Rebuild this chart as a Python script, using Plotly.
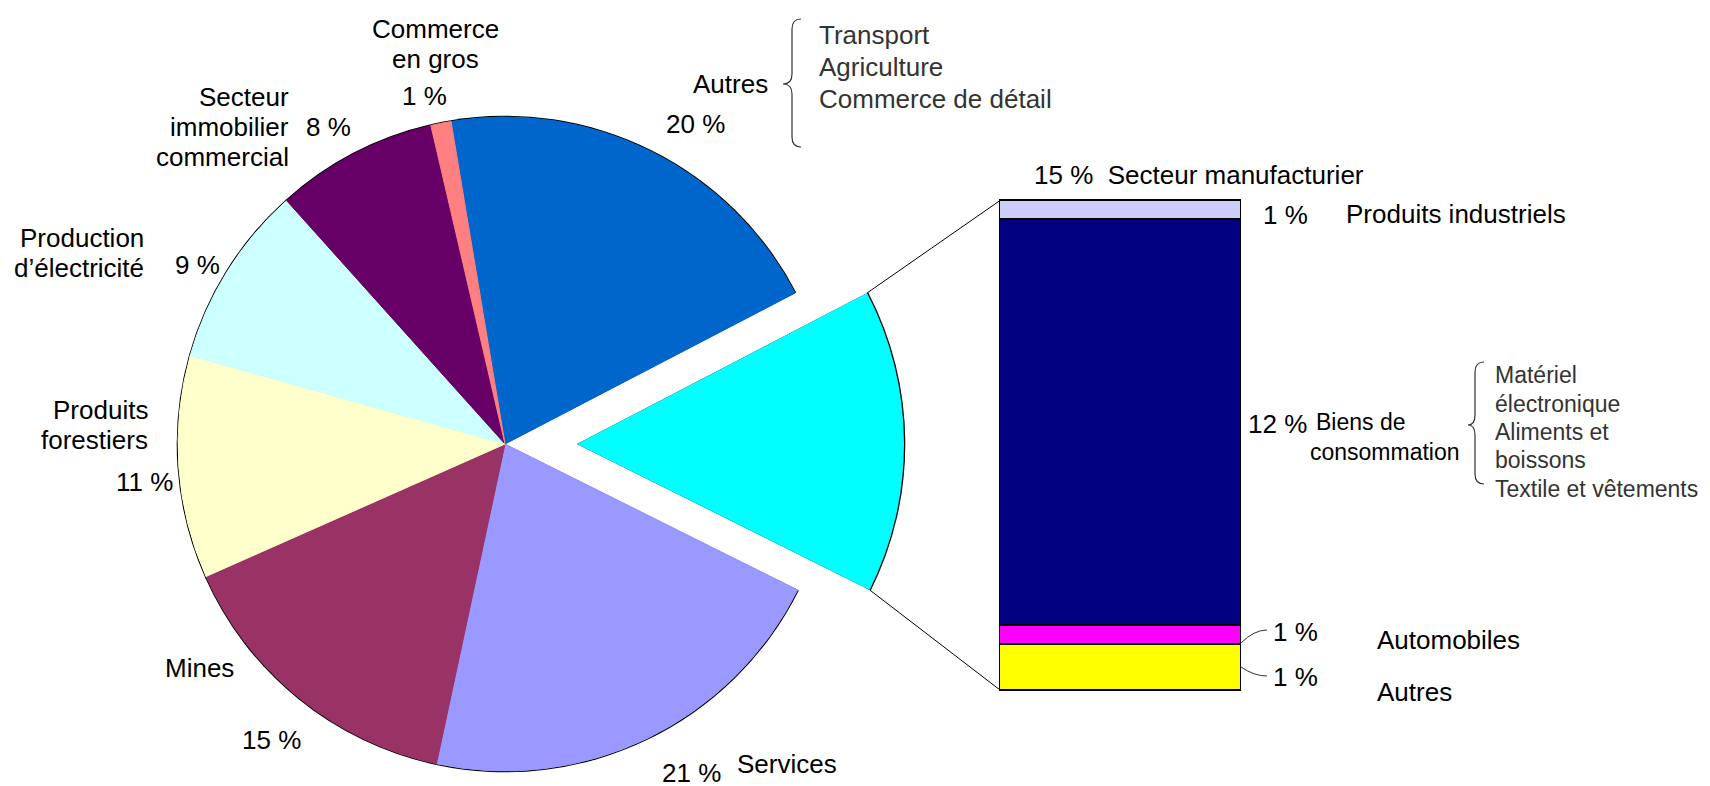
import math

import plotly.graph_objects as go

W, H = 1710, 786

# Répartition par secteur (camembert), dans le sens horaire depuis le haut
secteurs = [
    "Autres",
    "Secteur manufacturier",
    "Services",
    "Mines",
    "Produits forestiers",
    "Production d’électricité",
    "Secteur immobilier commercial",
    "Commerce en gros",
]
parts = [20, 15, 21, 15, 11, 9, 8, 1]
couleurs = ["#0066CC", "#00FFFF", "#9999FF", "#993366", "#FFFFCC", "#CCFFFF", "#660066", "#FF8080"]

# Détail du secteur manufacturier (barre empilée, du bas vers le haut)
manuf = ["Autres", "Automobiles", "Biens de consommation", "Produits industriels"]
manuf_parts = [1.38, 0.61, 12.44, 0.57]
manuf_etiq = ["1 %", "1 %", "12 %", "1 %"]
manuf_couleurs = ["#FFFF00", "#FF00FF", "#000080", "#CCCCFF"]

FONT = "Liberation Sans, Arial, sans-serif"

# géométrie (pixels)
OX, OY = -7, -6
CX, CY, R = 504, 442, 327
PULL = 72
ROT = -9.5
BAR_X0, BAR_X1, BAR_Y0, BAR_Y1 = 999, 1240, 198.5, 688
PAD = 4


def px(x):
    return (x + OX) / W


def py(y):
    return 1 - (y + OY) / H


def dom(cx, cy, r):
    return dict(x=[px(cx - r), px(cx + r)], y=[py(cy + r), py(cy - r)])


i_man = secteurs.index("Secteur manufacturier")
clear = "rgba(0,0,0,0)"

fig = go.Figure()


def pie(colors, domain, seam=False):
    fig.add_trace(
        go.Pie(
            labels=secteurs,
            values=parts,
            sort=False,
            direction="clockwise",
            rotation=ROT,
            marker=dict(colors=colors, line=dict(width=1 if seam else 0, color=colors)),
            textinfo="none",
            hoverinfo="skip",
            showlegend=False,
            domain=domain,
        )
    )


# contour noir (léger débordement) + camembert, sans la part manufacturière
pie(["black" if i != i_man else clear for i in range(len(parts))], dom(CX, CY, R + 1.3))
pie([c if i != i_man else clear for i, c in enumerate(couleurs)], dom(CX, CY, R), seam=True)
# part manufacturière détachée
pie(["black" if i == i_man else clear for i in range(len(parts))], dom(CX + PULL, CY, R + 1.3))
pie([c if i == i_man else clear for i, c in enumerate(couleurs)], dom(CX + PULL, CY, R))

for nom, v, c in zip(manuf, manuf_parts, manuf_couleurs):
    fig.add_trace(
        go.Bar(
            x=[0],
            y=[v],
            width=1,
            name=nom,
            marker=dict(color=c, line=dict(color="black", width=1.5)),
            hoverinfo="skip",
            showlegend=False,
        )
    )

total = sum(manuf_parts)
ux = PAD / (BAR_X1 - BAR_X0)
uy = total * PAD / (BAR_Y1 - BAR_Y0)

# lignes de liaison camembert -> barre
a0 = math.radians(ROT + 360 * sum(parts[:i_man]) / sum(parts))
a1 = math.radians(ROT + 360 * sum(parts[: i_man + 1]) / sum(parts))
shapes = []
for a, yb in [(a0, BAR_Y0), (a1, BAR_Y1)]:
    x0 = CX + PULL + R * math.sin(a)
    y0 = CY - R * math.cos(a)
    shapes.append(
        dict(type="line", xref="paper", yref="paper", x0=px(x0), y0=py(y0), x1=px(BAR_X0), y1=py(yb),
             line=dict(color="black", width=1))
    )


def brace(x_tip, x_body, x_end, y0, ym, y1, r=10):
    pts = [
        f"M {px(x_end)},{py(y0)}",
        f"Q {px(x_body)},{py(y0)} {px(x_body)},{py(y0 + r)}",
        f"L {px(x_body)},{py(ym - r)}",
        f"Q {px(x_body)},{py(ym)} {px(x_tip)},{py(ym)}",
        f"Q {px(x_body)},{py(ym)} {px(x_body)},{py(ym + r)}",
        f"L {px(x_body)},{py(y1 - r)}",
        f"Q {px(x_body)},{py(y1)} {px(x_end)},{py(y1)}",
    ]
    return dict(type="path", xref="paper", yref="paper", path=" ".join(pts),
                line=dict(color="#333333", width=1.2))


shapes.append(brace(782, 791, 800, 17, 82, 145))
shapes.append(brace(1467, 1474, 1483, 360, 423, 482))

# petits traits vers les étiquettes 1 %
for (xa, ya), (xb, yb) in [((BAR_X1, 641), (1266, 628)), ((BAR_X1, 665), (1266, 674))]:
    xm = (xa + xb) / 2
    shapes.append(
        dict(type="path", xref="paper", yref="paper",
             path=f"M {px(xa)},{py(ya)} Q {px(xm)},{py(yb)} {px(xb)},{py(yb)}",
             line=dict(color="#333333", width=1))
    )

annotations = []


def lab(text, x, y, anchor="center", size=26, color="black", spacing=None):
    lignes = text.split("<br>")
    if spacing is None:
        spacing = size * 1.17
    n = len(lignes)
    for k, t in enumerate(lignes):
        yy = y + (k - (n - 1) / 2) * spacing
        annotations.append(
            dict(text=t, x=px(x), y=py(yy), xref="paper", yref="paper", xanchor=anchor, yanchor="middle",
                 showarrow=False, font=dict(family=FONT, size=size, color=color))
        )


pct = {s: f"{v} %" for s, v in zip(secteurs, parts)}

lab("Commerce<br>en gros", 434, 42)
lab(pct["Commerce en gros"], 423, 94)
lab("Secteur<br>immobilier<br>commercial", 290, 125, "right")
lab(pct["Secteur immobilier commercial"], 327, 125)
lab("Production<br>d’électricité", 145, 251, "right")
lab(pct["Production d’électricité"], 196, 263)
lab("Produits<br>forestiers", 149, 423, "right")
lab(pct["Produits forestiers"], 174, 480, "right")
lab("Mines", 198, 666)
lab(pct["Mines"], 270, 738)
lab(pct["Services"], 690, 771)
lab("Services", 734, 762, "left")
lab("Autres", 769, 82, "right")
lab(pct["Autres"], 694, 122)
lab("Transport<br>Agriculture<br>Commerce de détail", 816, 65, "left", color="#333333", spacing=32)

lab(f"{pct['Secteur manufacturier']}  Secteur manufacturier", 1031, 173, "left")
lab(manuf_etiq[3], 1284, 213)
lab("Produits industriels", 1343, 212, "left")
lab(manuf_etiq[2], 1276, 422)
lab("Biens de", 1313, 420, "left", size=23)
lab("consommation", 1307, 450, "left", size=23)
lab("Matériel<br>électronique<br>Aliments et<br>boissons<br>Textile et vêtements", 1492, 430, "left",
    size=23, color="#333333", spacing=28.4)
lab(manuf_etiq[1], 1294, 630)
lab("Automobiles", 1374, 638, "left")
lab(manuf_etiq[0], 1294, 675)
lab("Autres", 1374, 690, "left")

fig.update_layout(
    width=W,
    height=H,
    margin=dict(l=0, r=0, t=0, b=0),
    paper_bgcolor="white",
    plot_bgcolor="rgba(0,0,0,0)",
    barmode="stack",
    bargap=0,
    xaxis=dict(domain=[px(BAR_X0 - PAD), px(BAR_X1 + PAD)], range=[-0.5 - ux, 0.5 + ux], visible=False,
               fixedrange=True),
    yaxis=dict(domain=[py(BAR_Y1 + PAD), py(BAR_Y0 - PAD)], range=[-uy, total + uy], visible=False,
               fixedrange=True),
    shapes=shapes,
    annotations=annotations,
    font=dict(family=FONT),
)

fig.write_html("out.html")
